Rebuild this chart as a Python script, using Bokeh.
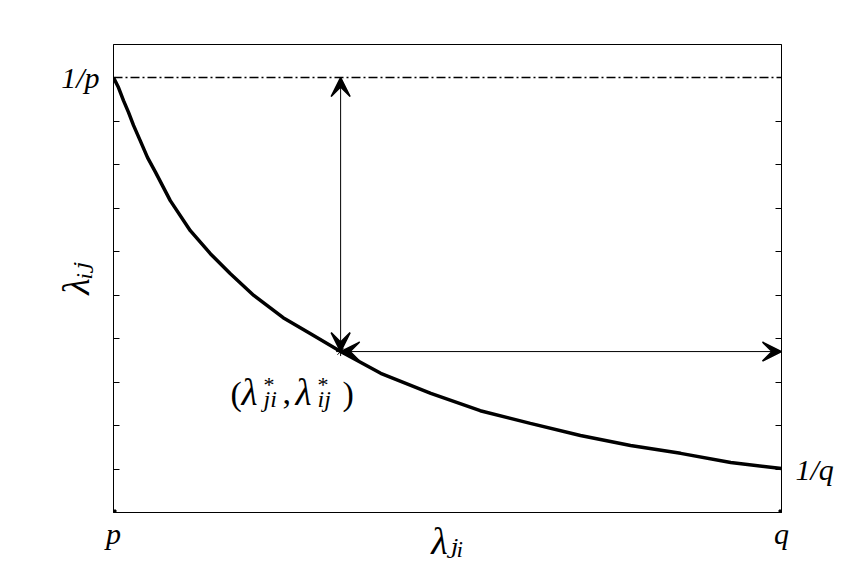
from bokeh.plotting import figure
from bokeh.models import (Arrow, VeeHead, Span, Label, FixedTicker,
                          LinearAxis, Range1d)
from bokeh.embed import file_html
from bokeh.resources import INLINE

# ---- data (x: p -> q normalised to 0..1) ----
lam_ji = [0.0, 0.0075, 0.015, 0.0225, 0.030, 0.040, 0.051, 0.063, 0.085,
          0.115, 0.145, 0.175, 0.210, 0.254, 0.295, 0.340, 0.400, 0.475,
          0.549, 0.624, 0.699, 0.774, 0.849, 0.924, 1.0]
lam_ij = [1.0, 0.977, 0.947, 0.920, 0.890, 0.855, 0.816, 0.782, 0.717,
          0.648, 0.595, 0.549, 0.499, 0.448, 0.411, 0.370, 0.320, 0.274,
          0.234, 0.205, 0.177, 0.154, 0.136, 0.115, 0.101]

inv_p = 1.0          # 1/p level
star_x = 0.340       # lambda*_ji
star_y = 0.370       # lambda*_ij

x_ticks = [0.0, 1.0]
x_tick_labels = ["p", "q"]
y_ticks = [0.1, 0.2, 0.3, 0.4, 0.5, 0.6, 0.7, 0.8, 0.9, 1.0]
left_label_tick = 1.0
left_label_text = "1/p"
right_label_tick = 0.1
right_label_text = "1/q"
x_title = "λⱼᵢ"
y_title = "λᵢⱼ"

SERIF = "Liberation Serif"
TITLE_FONT = "'Liberation Serif', 'DejaVu Serif', 'DejaVu Sans'"
W, H = 866, 576

p = figure(width=W, height=H,
           x_range=Range1d(0, 1), y_range=Range1d(0, 1.076),
           output_backend="svg", toolbar_location=None,
           min_border_left=113, min_border_right=85,
           min_border_top=44, min_border_bottom=64)
p.background_fill_color = "white"
p.border_fill_color = "white"
p.outline_line_color = "black"
p.outline_line_width = 1
p.grid.visible = False

# bottom axis
xa = p.xaxis[0]
xa.ticker = FixedTicker(ticks=x_ticks)
xa.major_label_overrides = {t: s for t, s in zip(x_ticks, x_tick_labels)}
xa.major_tick_in = 0
xa.major_tick_out = 0
xa.minor_tick_line_color = None
xa.axis_line_color = "black"
xa.major_label_text_font = SERIF
xa.major_label_text_font_style = "italic"
xa.major_label_text_font_size = "30px"
xa.major_label_text_color = "black"
xa.major_label_standoff = 4
xa.axis_label = x_title
xa.axis_label_text_font = TITLE_FONT
xa.axis_label_text_font_style = "italic"
xa.axis_label_text_font_size = "38px"
xa.axis_label_text_color = "black"
xa.axis_label_standoff = -33

# left axis
ya = p.yaxis[0]
ya.ticker = FixedTicker(ticks=y_ticks)
ya.major_label_overrides = {t: (left_label_text if t == left_label_tick else "")
                            for t in y_ticks}
ya.major_tick_in = 6
ya.major_tick_out = 0
ya.minor_tick_line_color = None
ya.axis_line_color = "black"
ya.major_label_text_font = SERIF
ya.major_label_text_font_style = "italic"
ya.major_label_text_font_size = "30px"
ya.major_label_text_color = "black"
ya.major_label_standoff = 14
ya.axis_label = y_title
ya.axis_label_text_font = TITLE_FONT
ya.axis_label_text_font_style = "italic"
ya.axis_label_text_font_size = "38px"
ya.axis_label_text_color = "black"
ya.axis_label_standoff = -39

# right axis
ra = LinearAxis(ticker=FixedTicker(ticks=y_ticks[:-1]))
ra.major_label_overrides = {t: (right_label_text if t == right_label_tick else "")
                            for t in y_ticks[:-1]}
ra.major_tick_in = 6
ra.major_tick_out = 0
ra.minor_tick_line_color = None
ra.axis_line_color = "black"
ra.major_label_text_font = SERIF
ra.major_label_text_font_style = "italic"
ra.major_label_text_font_size = "30px"
ra.major_label_text_color = "black"
ra.major_label_standoff = 14
p.add_layout(ra, "right")

# 1/p dash-dot line
p.add_layout(Span(location=inv_p, dimension="width", line_color="black",
                  line_width=1.5, line_dash="9 3 2 3"))

# curve
p.line(lam_ji, lam_ij, line_color="black", line_width=3.5)

# corner markers at p and q
p.scatter(x_ticks, [0, 0], marker="square", size=5, color="black")

# double arrows
def head():
    return VeeHead(size=19, fill_color="black", fill_alpha=1.0,
                   line_color="black", line_width=1.5)

p.add_layout(Arrow(start=head(), end=head(), x_start=star_x, y_start=star_y,
                   x_end=star_x, y_end=inv_p, line_color="black", line_width=1))
p.add_layout(Arrow(start=head(), end=head(), x_start=star_x, y_start=star_y,
                   x_end=x_ticks[1], y_end=star_y, line_color="black", line_width=1))

p.scatter([star_x], [star_y], marker="asterisk", size=9, line_color="black",
          line_width=1)

def lab(x, y, text, dx, dy, size, style="italic"):
    p.add_layout(Label(x=x, y=y, text=text, x_offset=dx, y_offset=dy,
                       text_font=SERIF, text_font_style=style,
                       text_font_size=size, text_color="black",
                       text_align="left", text_baseline="alphabetic"))

# point label (lambda*_ji, lambda*_ij)
lab(star_x, star_y, "(", -110, -42, "34px", style="normal")
lab(star_x, star_y, "λ", -99, -41, "37px")
lab(star_x, star_y, "*", -77, -33, "22px", style="normal")
lab(star_x, star_y, "ji", -77, -47, "24px")
lab(star_x, star_y, ",", -58, -41, "34px", style="normal")
lab(star_x, star_y, "λ", -45, -41, "37px")
lab(star_x, star_y, "*", -23, -33, "22px", style="normal")
lab(star_x, star_y, "ij", -23, -47, "24px")
lab(star_x, star_y, ")", 2, -42, "34px", style="normal")

open("out.html", "w").write(file_html(p, INLINE))
